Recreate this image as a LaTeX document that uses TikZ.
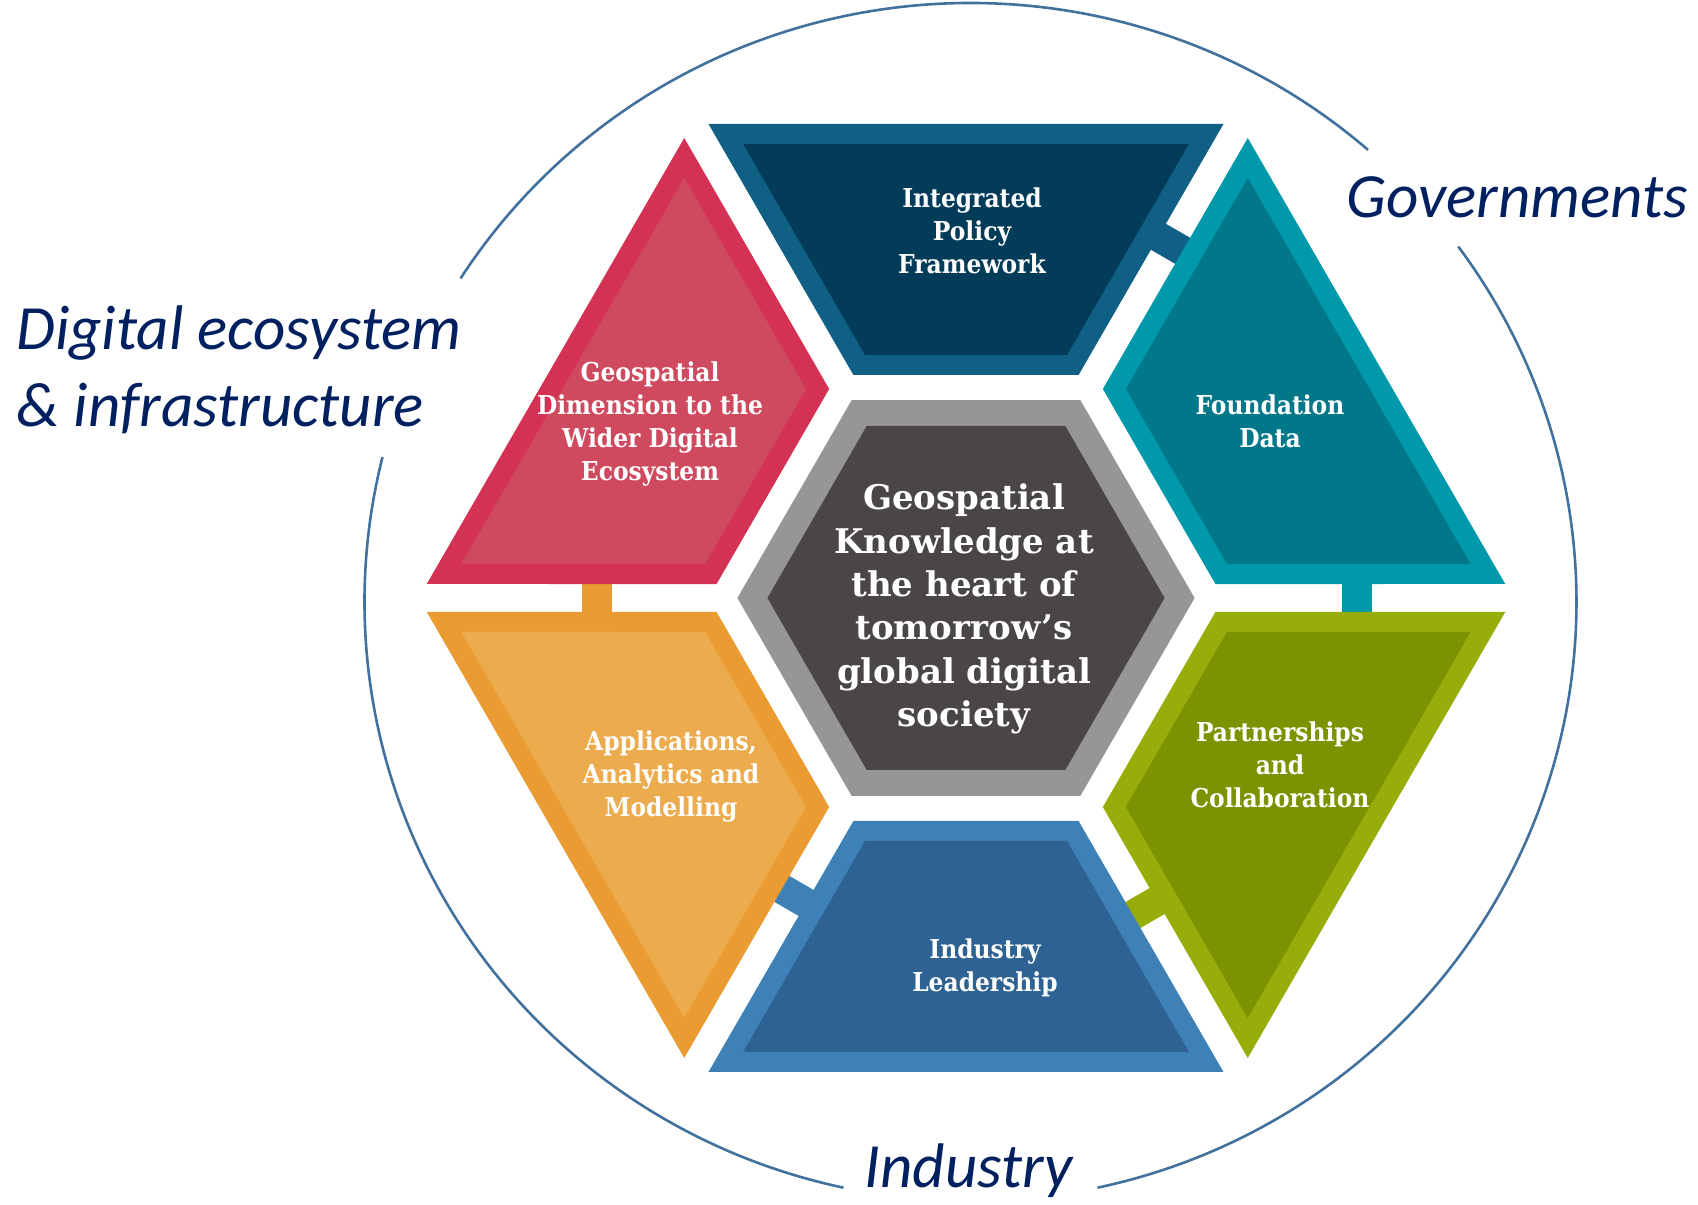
\documentclass[tikz,border=0pt]{standalone}
\usepackage{fontspec}
\setmainfont{DejaVu Serif}
\newfontfamily\slabfont{DejaVu Serif Condensed}
\newfontfamily\corefont{DejaVu Serif}
\newfontfamily\calfont{Carlito}
\usetikzlibrary{calc}
\definecolor{topO}{HTML}{106086}
\definecolor{topI}{HTML}{033C58}
\definecolor{tealO}{HTML}{0099AB}
\definecolor{tealI}{HTML}{00788A}
\definecolor{greenO}{HTML}{97AD0A}
\definecolor{greenI}{HTML}{7D9200}
\definecolor{botO}{HTML}{3E81B6}
\definecolor{botI}{HTML}{2E6292}
\definecolor{orgO}{HTML}{EA9B32}
\definecolor{orgI}{HTML}{ECAB4C}
\definecolor{redO}{HTML}{D43254}
\definecolor{redI}{HTML}{CF4A5F}
\definecolor{grayO}{HTML}{969696}
\definecolor{grayI}{HTML}{4A4646}
\definecolor{circc}{HTML}{41719C}
\definecolor{labc}{HTML}{002060}
\newcommand\hexpiece[3]{%
  \begin{scope}[shift={(966,607)},rotate=#1]
    \fill[#2] (474,-257.5) -- (474,257.5) -- (223,112.6) -- (223,-112.6) -- cycle;
    \fill[#3] (454,-222.9) -- (454,222.9) -- (243,101.0) -- (243,-101.0) -- cycle;
  \end{scope}}
\newcommand\hexbar[4]{%
  \begin{scope}[shift={(966,607)},rotate=#2]
    \coordinate (#1s) at (#3,-24);
    \coordinate (#1e) at (#3,24);
  \end{scope}
  \draw[barline,#4] (#1s) -- (#1e);}
\begin{document}
\begin{tikzpicture}[x=0.5pt,y=0.5pt,
  barline/.style={line width=15pt},
  circline/.style={draw=circc,line width=1.3pt},
  ptext/.style={text=white,align=center,inner sep=0pt,font=\slabfont\bfseries\fontsize{13}{16.5}\selectfont},
  ctext/.style={text=white,align=center,inner sep=0pt,font=\corefont\bfseries\fontsize{17}{21.7}\selectfont},
  lab/.style={text=labc,inner sep=0pt,anchor=base west,font=\calfont\itshape\fontsize{31.5}{38}\selectfont}]
\useasboundingbox (0,0) rectangle (1698,1205);
% outer circle (broken for labels)
\coordinate (ec) at (970.5,603);
\draw[circline] ([shift={(49:606 and 599)}]ec) arc[start angle=49,end angle=147.3,x radius=606,y radius=599];
\draw[circline] ([shift={(166:606 and 599)}]ec) arc[start angle=166,end angle=257.9,x radius=606,y radius=599];
\draw[circline] ([shift={(282.1:606 and 599)}]ec) arc[start angle=282.1,end angle=396.4,x radius=606,y radius=599];
% connector bars
\hexbar{ba}{60}{409}{topO}
\hexbar{bb}{0}{391}{tealO}
\hexbar{bc}{-60}{358}{greenO}
\hexbar{bd}{-120}{344}{botO}
\hexbar{be}{180}{369}{orgO}
% six pieces
\hexpiece{90}{topO}{topI}
\hexpiece{30}{tealO}{tealI}
\hexpiece{-30}{greenO}{greenI}
\hexpiece{-90}{botO}{botI}
\hexpiece{-150}{orgO}{orgI}
\hexpiece{150}{redO}{redI}
% centre hexagon
\begin{scope}[shift={(966,607)}]
  \fill[grayO] (0:228.6) -- (60:228.6) -- (120:228.6) -- (180:228.6) -- (240:228.6) -- (300:228.6) -- cycle;
  \fill[grayI] (0:198.6) -- (60:198.6) -- (120:198.6) -- (180:198.6) -- (240:198.6) -- (300:198.6) -- cycle;
\end{scope}
% texts
\node[ptext] (policy) at (972,974) {Integrated\\Policy\\Framework};
\node[ptext] (found) at (1270,784) {Foundation\\Data};
\node[ptext] (geodim) at (650,781) {Geospatial\\Dimension to the\\Wider Digital\\Ecosystem};
\node[ptext] (apps) at (671,428) {Applications,\\Analytics and\\Modelling};
\node[ptext] (indlead) at (985,237) {Industry\\Leadership};
\node[ptext] (partner) at (1280,440) {Partnerships\\and\\Collaboration};
\node[ctext] (core) at (964,596) {Geospatial\\Knowledge at\\the heart of\\tomorrow’s\\global digital\\society};
\node[lab] (dig1) at (16,855) {Digital ecosystem};
\node[lab] (dig2) at (16,778) {\& infrastructure};
\node[lab] (gov) at (1346,987) {Governments};
\node[lab] (ind) at (864,18) {Industry};
\end{tikzpicture}
\end{document}
